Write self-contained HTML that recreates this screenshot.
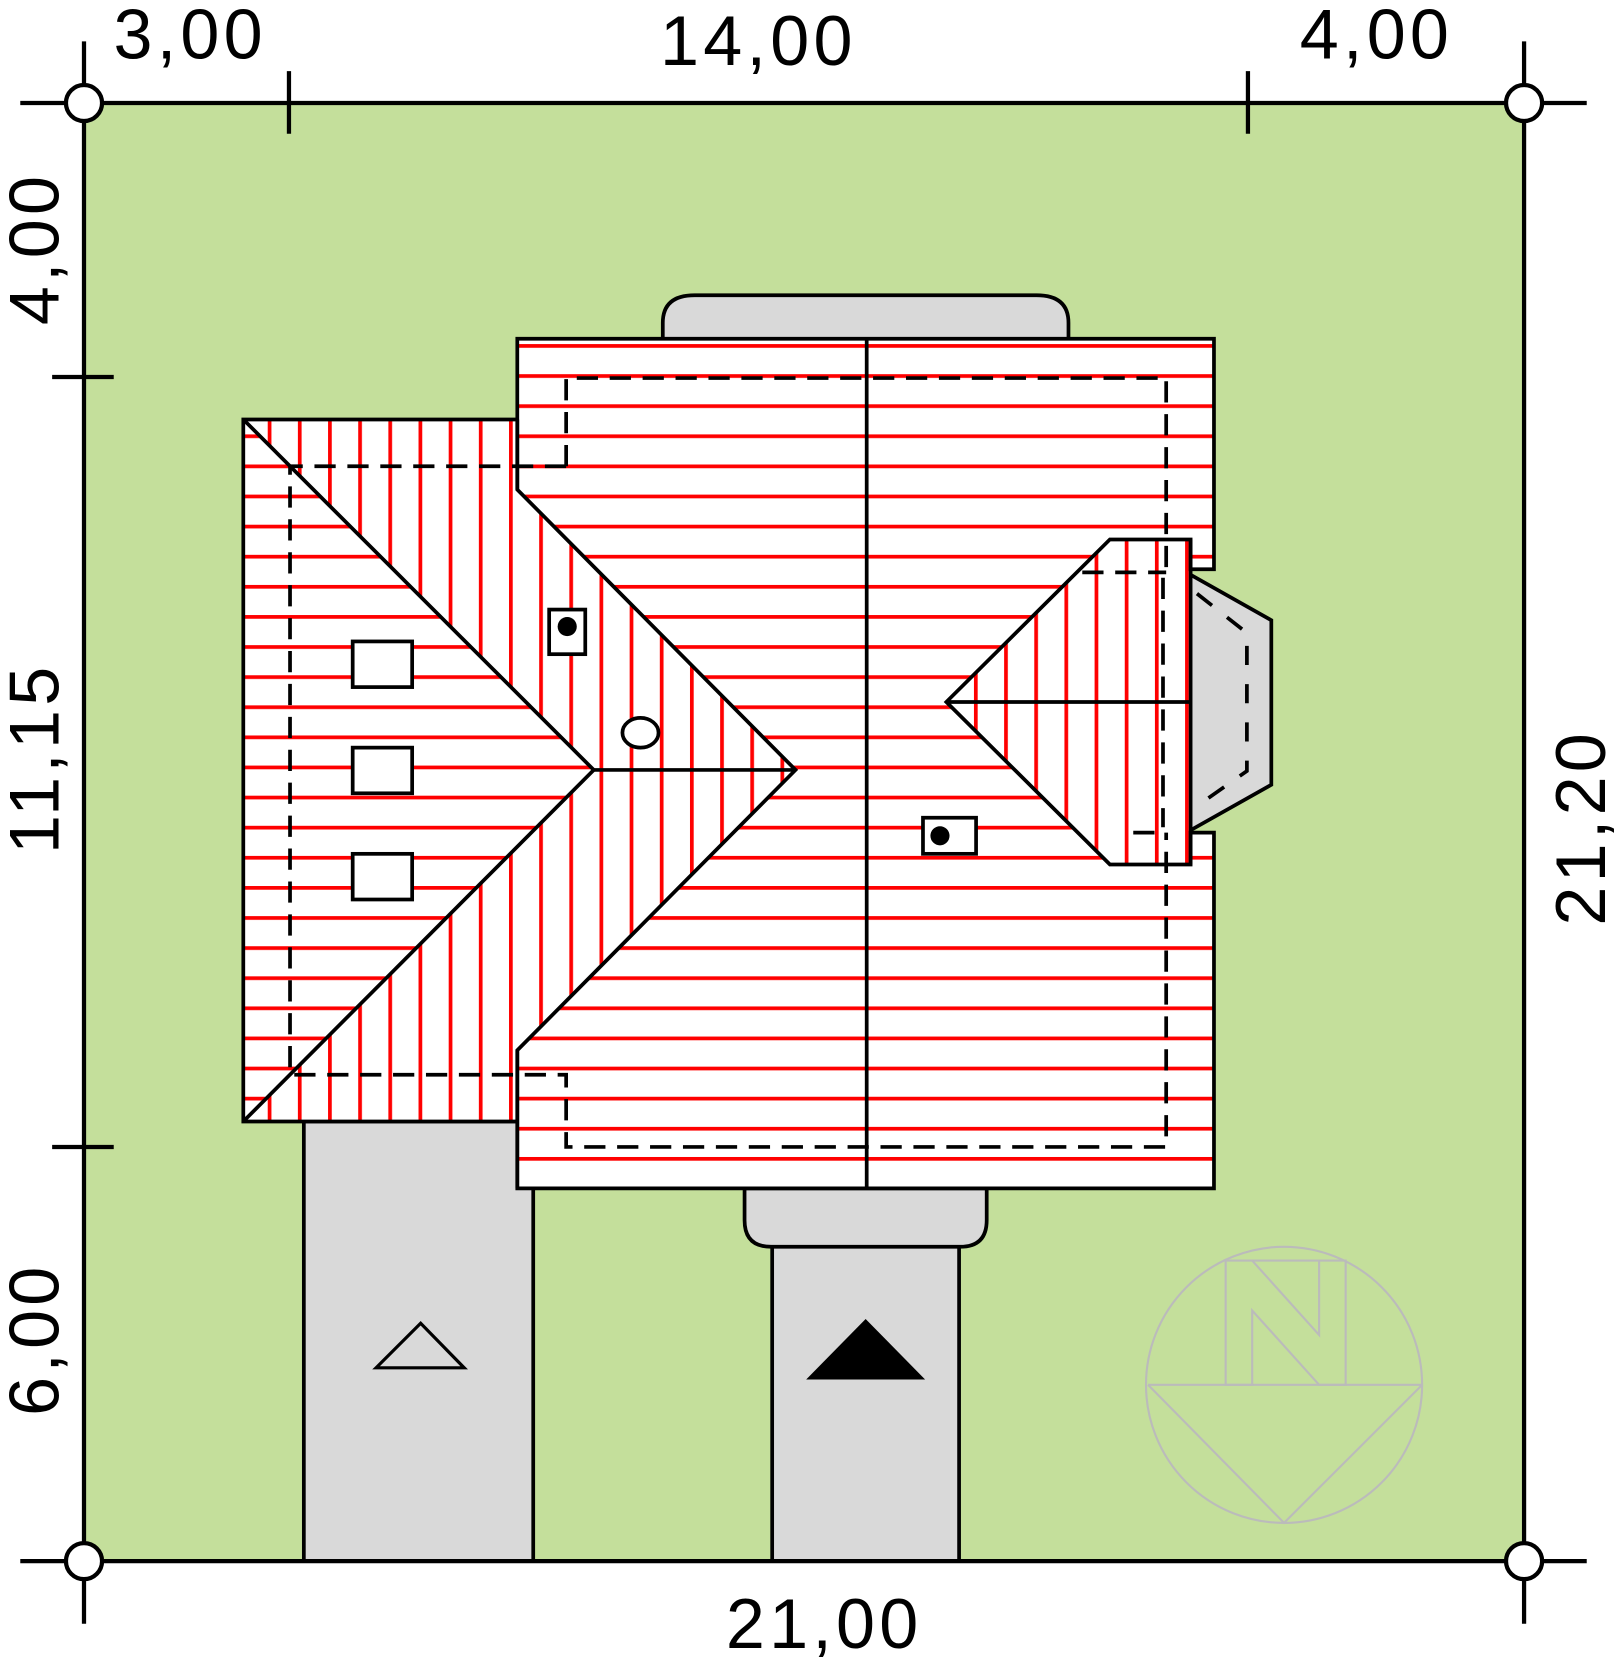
<!DOCTYPE html>
<html><head><meta charset="utf-8"><style>
html,body{margin:0;padding:0;background:#fff;}
svg{display:block;}
text{font-family:"Liberation Sans",sans-serif;font-size:66px;fill:#000;letter-spacing:4px;}
</style></head><body>
<svg width="1616" height="1664" viewBox="0 0 1616 1664" xmlns="http://www.w3.org/2000/svg">
<defs>
<pattern id="hz" patternUnits="userSpaceOnUse" x="0" y="325" width="50" height="28.35"><rect x="0" y="0" width="50" height="3.5" fill="#ff0000"/></pattern>
<pattern id="vt" patternUnits="userSpaceOnUse" x="253" y="0" width="28.4" height="50"><rect x="0" y="0" width="3.5" height="50" fill="#ff0000"/></pattern>
<pattern id="vd" patternUnits="userSpaceOnUse" x="918" y="0" width="28.4" height="50"><rect x="0" y="0" width="3.5" height="50" fill="#ff0000"/></pattern>
</defs>
<g transform="translate(84,103) scale(1.062) translate(-80,-98)">
<rect x="80" y="98" width="1356" height="1373" fill="#c4df9b"/>
<rect x="287" y="1057" width="216" height="414" fill="#d9d9d9" stroke="#000" stroke-width="3.5"/>
<rect x="728" y="1160" width="176" height="311" fill="#d9d9d9" stroke="#000" stroke-width="3.5"/>
<path d="M702 1120 L702 1150 Q702 1175 727 1175 L905 1175 Q930 1175 930 1150 L930 1120 Z" fill="#d9d9d9" stroke="#000" stroke-width="3.5"/>
<path d="M625 322 L625 305 Q625 279 655 279 L977 279 Q1007 279 1007 305 L1007 322 Z" fill="#d9d9d9" stroke="#000" stroke-width="3.5"/>
<polygon points="1118,540 1198,585 1198,740 1118,785" fill="#d9d9d9" stroke="#000" stroke-width="3.5"/>
<polyline points="1128,560 1175,597 1175,727 1128,760" fill="none" stroke="#000" stroke-width="3.5" stroke-dasharray="18,18"/>
<polygon points="488,320 1144,320 1144,537 1122,537 1122,785 1144,785 1144,1120 488,1120" fill="#fff"/>
<polygon points="488,320 1144,320 1144,537 1122,537 1122,785 1144,785 1144,1120 488,1120" fill="url(#hz)"/>
<polygon points="230,396 560,726 230,1057" fill="#fff"/>
<polygon points="230,396 560,726 230,1057" fill="url(#hz)"/>
<polygon points="230,396 488,396 488,462 750,726 488,990 488,1057 230,1057 560,726" fill="#fff"/>
<polygon points="230,396 488,396 488,462 750,726 488,990 488,1057 230,1057 560,726" fill="url(#vt)"/>
<polygon points="892,662 1046,509 1122,509 1122,815 1046,815" fill="#fff"/>
<polygon points="892,662 1046,509 1122,509 1122,815 1046,815" fill="url(#vd)"/>
<g fill="none" stroke="#000" stroke-width="3.5" stroke-dasharray="20,11">
<polyline points="534,440 534,357 1099,357 1099,540"/>
<polyline points="534,440 274,440 274,1013 534,1013 534,1081 1099,1081 1099,785"/>
<line x1="1020" y1="540" x2="1099" y2="540"/>
<line x1="1068" y1="785" x2="1099" y2="785"/>
<line x1="1096" y1="545" x2="1096" y2="780"/>
</g>
<g fill="none" stroke="#000" stroke-width="3.5">
<polyline points="488,396 230,396 230,1057 488,1057"/>
<polygon points="488,320 1144,320 1144,537 1122,537 1122,509 1046,509 892,662 1046,815 1122,815 1122,785 1144,785 1144,1120 488,1120 488,990 750,726 488,462"/>
<line x1="488" y1="396" x2="488" y2="462"/>
<line x1="488" y1="990" x2="488" y2="1120"/>
<line x1="230" y1="396" x2="560" y2="726"/>
<line x1="230" y1="1057" x2="560" y2="726"/>
<line x1="560" y1="726" x2="750" y2="726"/>
<line x1="817" y1="320" x2="817" y2="1120"/>
<line x1="892" y1="662" x2="1122" y2="662"/>
<line x1="1122" y1="509" x2="1122" y2="815"/>
</g>
<g fill="#fff" stroke="#000" stroke-width="3.5">
<rect x="333" y="605" width="56" height="43"/>
<rect x="333" y="705" width="56" height="43"/>
<rect x="333" y="805" width="56" height="43"/>
<rect x="518" y="575" width="34" height="42"/>
<rect x="870" y="771" width="50" height="34"/>
<ellipse cx="604" cy="691" rx="17" ry="14"/>
</g>
<circle cx="535" cy="591" r="9"/>
<circle cx="886" cy="788" r="9"/>
<polygon points="355,1289 397,1247 438,1289" fill="none" stroke="#000" stroke-width="3"/>
<polygon points="760,1300 816,1243 872,1300" fill="#000"/>
<g fill="none" stroke="#bbb" stroke-width="2">
<circle cx="1210" cy="1305" r="130"/>
<polyline points="1082,1305 1340,1305"/>
<polyline points="1082,1305 1210,1435 1340,1305"/>
<polygon points="1155,1305 1155,1188 1268,1188 1268,1305 1243,1305 1180,1235 1180,1305"/>
<polyline points="1180,1188 1243,1258 1243,1188"/>
</g>
<g stroke="#000" stroke-width="4">
<line x1="20" y1="98" x2="1495" y2="98"/>
<line x1="20" y1="1471" x2="1495" y2="1471"/>
<line x1="80" y1="40" x2="80" y2="1530"/>
<line x1="1436" y1="40" x2="1436" y2="1530"/>
<line x1="273" y1="68" x2="273" y2="127"/>
<line x1="1176" y1="68" x2="1176" y2="127"/>
<line x1="50" y1="356" x2="108" y2="356"/>
<line x1="50" y1="1081" x2="108" y2="1081"/>
</g>
<g fill="#fff" stroke="#000" stroke-width="4">
<circle cx="80" cy="98" r="17"/><circle cx="1436" cy="98" r="17"/>
<circle cx="80" cy="1471" r="17"/><circle cx="1436" cy="1471" r="17"/>
</g>
<text x="180" y="56" text-anchor="middle">3,00</text>
<text x="715" y="62" text-anchor="middle">14,00</text>
<text x="1297" y="56" text-anchor="middle">4,00</text>
<text x="777" y="1553" text-anchor="middle">21,00</text>
<text transform="translate(56,235) rotate(-90)" text-anchor="middle">4,00</text>
<text transform="translate(56,715) rotate(-90)" text-anchor="middle">11,15</text>
<text transform="translate(56,1262) rotate(-90)" text-anchor="middle">6,00</text>
<text transform="translate(1512,780) rotate(-90)" text-anchor="middle">21,20</text>
</g>
</svg>
</body></html>
